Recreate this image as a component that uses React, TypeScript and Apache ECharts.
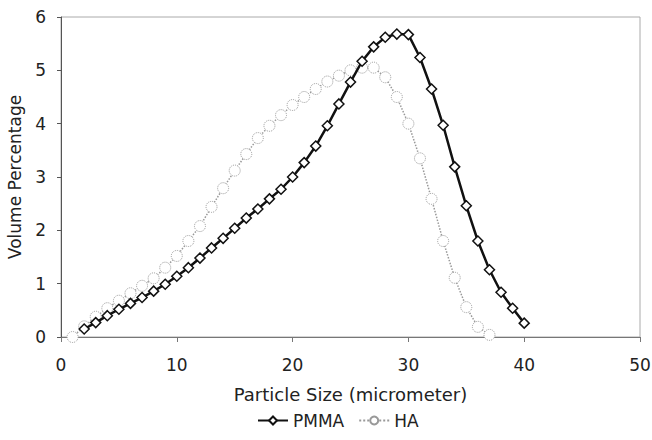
import React, { useEffect, useRef } from "react";
import * as echarts from "echarts";

const pmmaX = [2, 3, 4, 5, 6, 7, 8, 9, 10, 11, 12, 13, 14, 15, 16, 17, 18, 19, 20, 21, 22, 23, 24, 25, 26, 27, 28, 29, 30, 31, 32, 33, 34, 35, 36, 37, 38, 39, 40];
const pmmaY = [0.15, 0.27, 0.4, 0.52, 0.63, 0.74, 0.86, 0.99, 1.14, 1.3, 1.48, 1.67, 1.85, 2.04, 2.23, 2.4, 2.59, 2.77, 3.0, 3.27, 3.58, 3.96, 4.37, 4.78, 5.17, 5.44, 5.62, 5.68, 5.67, 5.24, 4.65, 3.97, 3.19, 2.46, 1.8, 1.26, 0.84, 0.54, 0.26];
const haX = [1, 2, 3, 4, 5, 6, 7, 8, 9, 10, 11, 12, 13, 14, 15, 16, 17, 18, 19, 20, 21, 22, 23, 24, 25, 26, 27, 28, 29, 30, 31, 32, 33, 34, 35, 36, 37];
const haY = [0, 0.2, 0.38, 0.54, 0.68, 0.82, 0.96, 1.1, 1.3, 1.52, 1.8, 2.08, 2.44, 2.79, 3.12, 3.43, 3.73, 3.96, 4.16, 4.35, 4.5, 4.65, 4.79, 4.9, 5.0, 5.05, 5.05, 4.87, 4.5, 4.0, 3.35, 2.59, 1.8, 1.11, 0.56, 0.19, 0.04];
const xTicks = { min: 0, max: 50, interval: 10 };
const yTicks = { min: 0, max: 6, interval: 1 };

const FONT = "DejaVu Sans";

export default function App() {
  const ref = useRef<HTMLDivElement>(null);
  useEffect(() => {
    if (!ref.current) return;
    const chart = echarts.init(ref.current, undefined, { renderer: "svg" });
    chart.setOption({
      animation: false,
      backgroundColor: "#fff",
      textStyle: { fontFamily: FONT },
      grid: {
        left: 61, right: 12, top: 17, bottom: 103,
        containLabel: false, outerBoundsMode: "none",
        show: true, borderColor: "#aaa", borderWidth: 1,
      },
      legend: {
        bottom: 6,
        left: 252,
        itemGap: 14,
        itemWidth: 30,
        itemHeight: 10,
        textStyle: { fontFamily: FONT, fontSize: 17, color: "#222" },
        data: ["PMMA", "HA"],
      },
      xAxis: {
        type: "value",
        min: xTicks.min,
        max: xTicks.max,
        interval: xTicks.interval,
        name: "Particle Size (micrometer)",
        nameLocation: "middle",
        nameGap: 48,
        nameTextStyle: { fontFamily: FONT, fontSize: 18, color: "#222" },
        axisLine: { show: true, lineStyle: { color: "#777", width: 1 } },
        axisTick: { show: true, length: 5, lineStyle: { color: "#777" } },
        axisLabel: { fontFamily: FONT, fontSize: 17, color: "#222", margin: 19 },
        splitLine: { show: false },
      },
      yAxis: {
        type: "value",
        min: yTicks.min,
        max: yTicks.max,
        interval: yTicks.interval,
        name: "Volume Percentage",
        nameLocation: "middle",
        nameGap: 38,
        nameTextStyle: { fontFamily: FONT, fontSize: 17, color: "#222" },
        axisLine: { show: true, lineStyle: { color: "#555", width: 1 } },
        axisTick: { show: true, length: 4, lineStyle: { color: "#555" } },
        axisLabel: { fontFamily: FONT, fontSize: 17, color: "#222", margin: 15 },
        splitLine: { show: false },
      },
      series: [
        {
          name: "PMMA",
          type: "line",
          data: pmmaX.map((x, i) => [x, pmmaY[i]]),
          symbol: "diamond",
          symbolSize: 10,
          showAllSymbol: true,
          lineStyle: { color: "#111", width: 2.5 },
          itemStyle: { color: "#fff", borderColor: "#111", borderWidth: 1.5 },
          z: 3,
        },
        {
          name: "HA",
          type: "line",
          data: haX.map((x, i) => [x, haY[i]]),
          symbol: "circle",
          symbolSize: 11,
          showAllSymbol: true,
          lineStyle: { color: "#999", width: 1.5, type: "dotted" },
          itemStyle: { color: "#fff", borderColor: "#999", borderWidth: 1, borderType: "dotted" },
          z: 2,
        },
      ],
    });
    return () => chart.dispose();
  }, []);
  return <div ref={ref} style={{ width: 652, height: 440, position: "absolute", left: 0, top: 0 }} />;
}
